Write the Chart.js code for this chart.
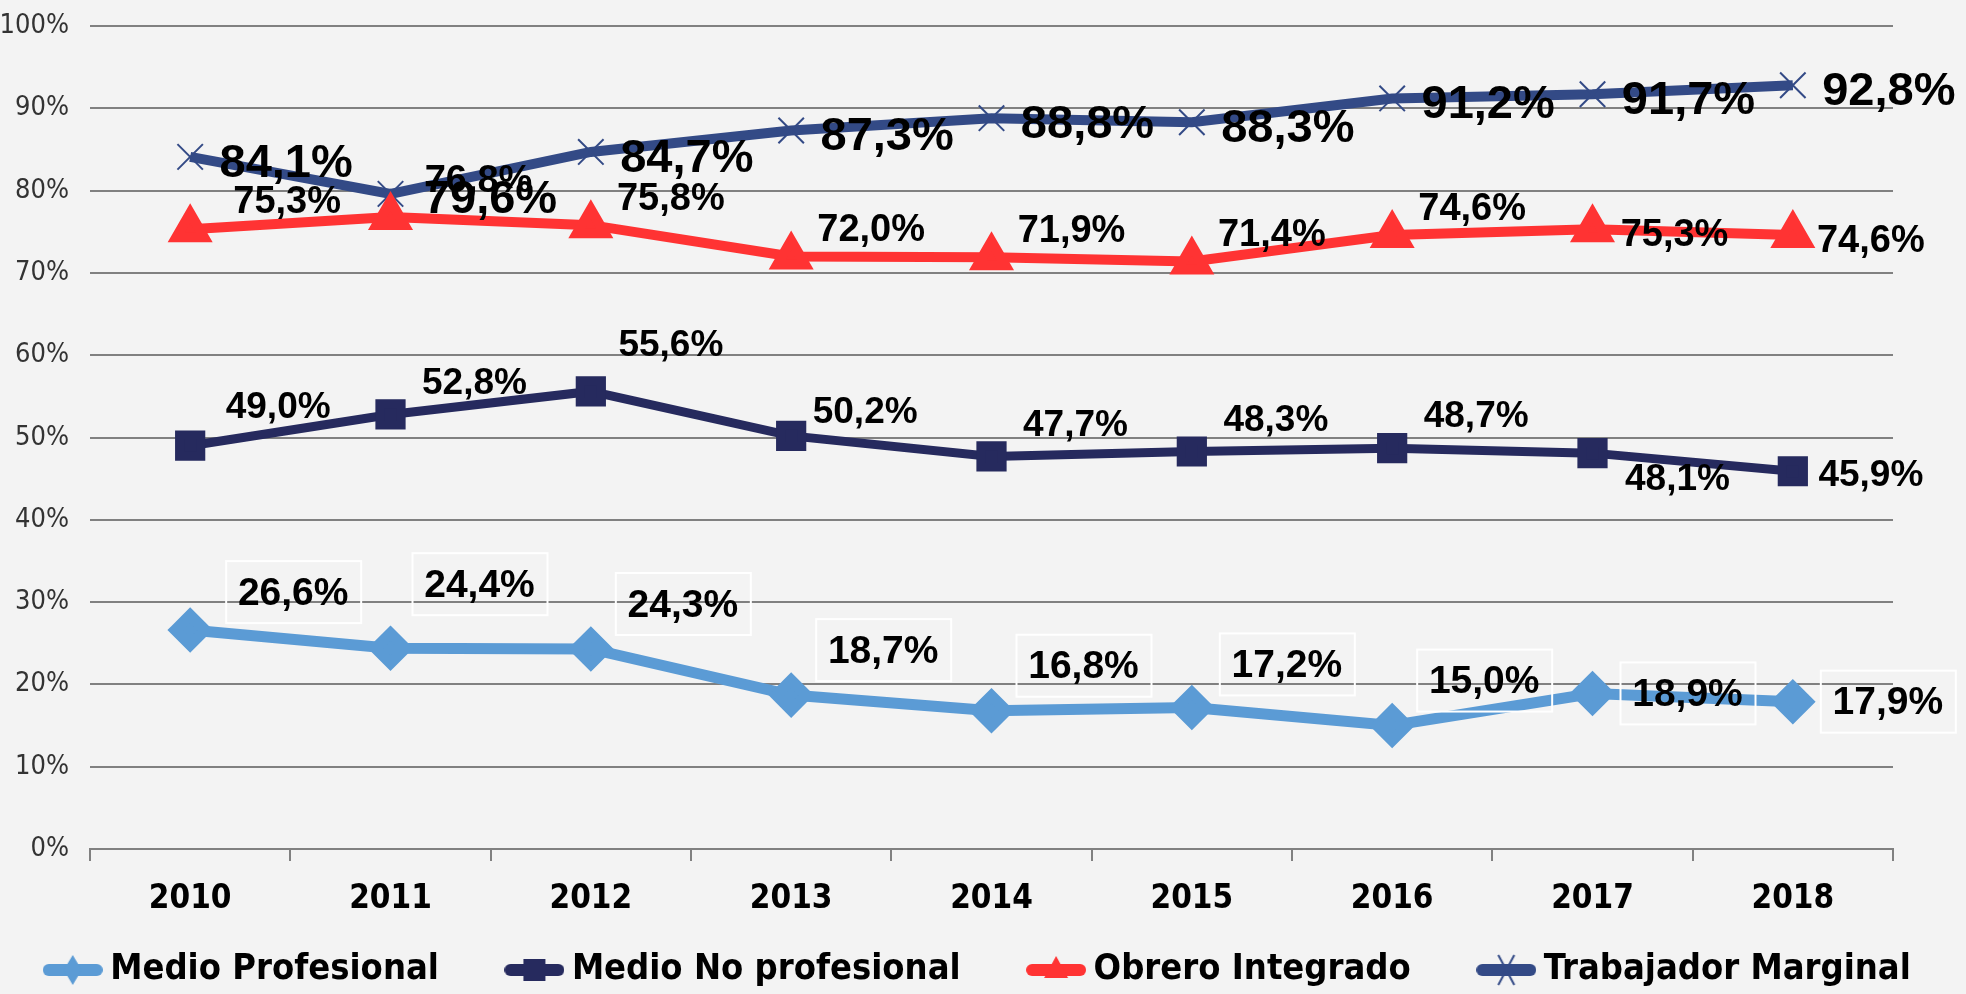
<!DOCTYPE html>
<html>
<head>
<meta charset="utf-8">
<script src="https://cdn.jsdelivr.net/npm/chart.js@4.4.1/dist/chart.umd.min.js"></script>
<style>
  html, body { margin: 0; padding: 0; background: #f3f3f3; }
  #wrap { width: 1966px; height: 994px; }
</style>
</head>
<body>
<div id="wrap"><canvas id="chart"></canvas></div>
<script>
// datos
const years = ['2010', '2011', '2012', '2013', '2014', '2015', '2016', '2017', '2018'];
const medioProfesional = [26.6, 24.4, 24.3, 18.7, 16.8, 17.2, 15.0, 18.9, 17.9];
const medioNoProfesional = [49.0, 52.8, 55.6, 50.2, 47.7, 48.3, 48.7, 48.1, 45.9];
const obreroIntegrado = [75.3, 76.8, 75.8, 72.0, 71.9, 71.4, 74.6, 75.3, 74.6];
const trabajadorMarginal = [84.1, 79.6, 84.7, 87.3, 88.8, 88.3, 91.2, 91.7, 92.8];
const seriesNames = ['Medio Profesional', 'Medio No profesional', 'Obrero Integrado', 'Trabajador Marginal'];

const NARROW = "'DejaVu Sans Condensed', 'DejaVu Sans', sans-serif";
const WIDE = "'Liberation Sans', Arial, sans-serif";

const C_LIGHT = '#5b9bd5';
const C_NAVY = '#262a5e';
const C_RED = '#ff3333';
const C_BLUE = '#334a86';

// estilo de etiquetas: desplazamiento por defecto y excepciones (px)
const labelStyle = [
  { size: 39, offset: [92, -45], over: { 0: [103, -38], 1: [89, -64], 5: [95, -43], 7: [95, 0], 8: [95, 0] }, box: true },
  { size: 37, offset: [84, -33], over: { 0: [88, -40], 2: [80, -48], 3: [74, -25], 7: [85, 25], 8: [78, 3] } },
  { size: 38, offset: [80, -28], over: { 0: [97, -29], 1: [88, -37], 7: [82, 4], 8: [78, 4] } },
  { size: 47, offset: [96, 5], over: { 1: [100, 4] } }
];

const fmt = v => v.toFixed(1).replace('.', ',') + '%';

const valueLabels = {
  id: 'valueLabels',
  beforeInit(chart) {
    // leyenda en una sola fila, con altura fija
    const fit = chart.legend.fit;
    chart.legend.fit = function () {
      this.maxWidth = 2200;
      fit.call(this);
      this.height = 65;
    };
  },
  afterLayout(chart) {
    // subir la leyenda (se solapa con la zona del eje x, que queda vacía)
    const lg = chart.legend;
    lg.top -= 53; lg.height += 53;
    lg.left = -36; lg.right = 2000; lg.width = 2036;
  },
  afterDatasetsDraw(chart) {
    const ctx = chart.ctx;
    chart.data.datasets.forEach((ds, i) => {
      const st = labelStyle[i];
      chart.getDatasetMeta(i).data.forEach((pt, j) => {
        const off = st.over[j] || st.offset;
        const x = pt.x + off[0];
        const y = pt.y + off[1];
        ctx.save();
        if (st.box) {
          ctx.strokeStyle = '#ffffff';
          ctx.lineWidth = 2;
          ctx.strokeRect(x - 67, y - 31, 135, 62);
        }
        ctx.font = 'bold ' + st.size + 'px ' + WIDE;
        ctx.textAlign = 'center';
        ctx.textBaseline = 'middle';
        ctx.fillStyle = '#000';
        ctx.fillText(fmt(ds.data[j]), x, y + 2);
        ctx.restore();
      });
    });
  }
};

// iconos de leyenda: línea + marcador
function legendIcon(color, style) {
  const c = document.createElement('canvas');
  c.width = 60; c.height = 40;
  const g = c.getContext('2d');
  g.strokeStyle = color; g.fillStyle = color;
  g.lineCap = 'round';
  g.lineWidth = 12;
  g.beginPath(); g.moveTo(6, 20); g.lineTo(54, 20); g.stroke();
  g.beginPath();
  if (style === 'diamond') {
    g.moveTo(30, 5); g.lineTo(39, 20); g.lineTo(30, 35); g.lineTo(21, 20); g.closePath(); g.fill();
  } else if (style === 'square') {
    g.fillRect(19, 9, 22, 22);
  } else if (style === 'triangle') {
    g.moveTo(30, 6); g.lineTo(42, 28); g.lineTo(18, 28); g.closePath(); g.fill();
  } else {
    g.lineWidth = 2; g.lineCap = 'butt';
    g.moveTo(22, 5); g.lineTo(38, 35); g.moveTo(38, 5); g.lineTo(22, 35); g.stroke();
  }
  return c;
}
const icons = [
  legendIcon(C_LIGHT, 'diamond'),
  legendIcon(C_NAVY, 'square'),
  legendIcon(C_RED, 'triangle'),
  legendIcon(C_BLUE, 'cross')
];

new Chart(document.getElementById('chart'), {
  type: 'line',
  data: {
    labels: years,
    datasets: [
      { label: seriesNames[0], data: medioProfesional, borderColor: C_LIGHT, backgroundColor: C_LIGHT,
        borderWidth: 11, pointStyle: 'rectRot', pointRadius: 15, pointHoverRadius: 15, tension: 0 },
      { label: seriesNames[1], data: medioNoProfesional, borderColor: C_NAVY, backgroundColor: C_NAVY,
        borderWidth: 9, pointStyle: 'rect', pointRadius: 15, pointHoverRadius: 15, tension: 0 },
      { label: seriesNames[2], data: obreroIntegrado, borderColor: C_RED, backgroundColor: C_RED,
        borderWidth: 10, pointStyle: 'triangle', pointRadius: 16, pointHoverRadius: 16, tension: 0 },
      { label: seriesNames[3], data: trabajadorMarginal, borderColor: C_BLUE, backgroundColor: C_BLUE,
        borderWidth: 10, pointStyle: 'crossRot', pointRadius: 18, pointHoverRadius: 18, pointBorderWidth: 2, tension: 0 }
    ]
  },
  options: {
    responsive: true,
    maintainAspectRatio: false,
    animation: false,
    layout: { padding: { top: 0, right: 73, left: 0, bottom: 0 } },
    plugins: {
      tooltip: { enabled: false },
      legend: {
        position: 'bottom',
        labels: {
          usePointStyle: true,
          pointStyleWidth: 39,
          padding: 76,
          color: '#000',
          font: { family: NARROW, size: 36, weight: 'bold' },
          generateLabels(chart) {
            return chart.data.datasets.map((ds, i) => ({
              text: ds.label, pointStyle: icons[i], fillStyle: ds.borderColor,
              strokeStyle: ds.borderColor, lineWidth: 0, datasetIndex: i, fontColor: '#000'
            }));
          }
        }
      }
    },
    scales: {
      x: {
        offset: true,
        grid: { display: true, drawOnChartArea: false, drawTicks: true, tickLength: 12, offset: true, color: '#808080', lineWidth: 2 },
        border: { display: true, color: '#808080', width: 2 },
        ticks: { color: '#000', padding: 19, font: { family: NARROW, size: 33, weight: 'bold' } },
        afterFit(s) { s.height = 80; }
      },
      y: {
        min: 0, max: 100,
        grid: { color: '#808080', lineWidth: 2, drawTicks: false },
        border: { display: false },
        ticks: { stepSize: 10, color: '#333', padding: 21, callback: v => v + '%',
                 font: { family: NARROW, size: 27 } },
        afterFit(s) { s.width = 90; s.paddingTop = 21; }
      }
    }
  },
  plugins: [valueLabels]
});
</script>
</body>
</html>
